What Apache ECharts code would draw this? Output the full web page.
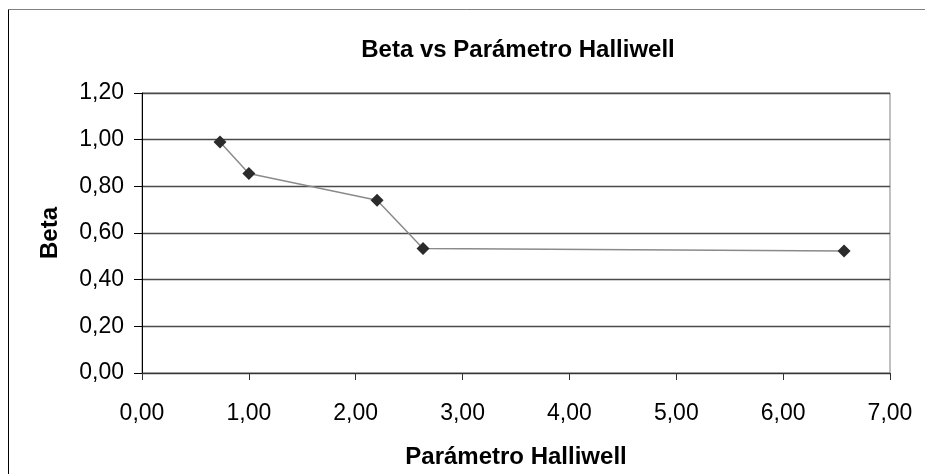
<!DOCTYPE html>
<html>
<head>
<meta charset="utf-8">
<style>
  html, body { margin: 0; padding: 0; background: #fff; }
  #chart { width: 925px; height: 474px; }
</style>
<script src="https://cdn.jsdelivr.net/npm/echarts@6/dist/echarts.min.js"></script>
</head>
<body>
<div id="chart"></div>
<script>
// Halliwell parameter (x) and Beta (y) measurements
const halliwell = [0.73, 1.00, 2.20, 2.63, 6.57];
const beta = [0.99, 0.855, 0.74, 0.534, 0.523];

// Axis ranges and steps
const xRange = [0, 7, 1];
const yRange = [0, 1.2, 0.2];

const fmt = v => v.toFixed(2).replace('.', ',');

const chart = echarts.init(document.getElementById('chart'), null, { renderer: 'canvas' });

chart.setOption({
  backgroundColor: '#ffffff',
  animation: false,
  title: {
    text: 'Beta vs Parámetro Halliwell',
    left: 513,
    textAlign: 'center',
    top: 33,
    textStyle: { fontFamily: 'Liberation Sans', fontWeight: 'bold', fontSize: 24, color: '#000' }
  },
  grid: {
    left: 142, right: 35, top: 93, bottom: 97,
    show: true, borderColor: '#808080', borderWidth: 1, backgroundColor: 'transparent'
  },
  xAxis: {
    type: 'value',
    min: xRange[0], max: xRange[1], interval: xRange[2],
    name: 'Parámetro Halliwell',
    nameLocation: 'middle',
    nameGap: 72,
    nameTextStyle: { fontFamily: 'Liberation Sans', fontWeight: 'bold', fontSize: 24, color: '#000' },
    axisLine: { show: true, onZero: false, lineStyle: { color: '#333', width: 1 } },
    axisTick: { show: true, length: 7, lineStyle: { color: '#333' } },
    axisLabel: { formatter: fmt, margin: 29, fontFamily: 'Liberation Sans', fontSize: 23, color: '#000' },
    splitLine: { show: false }
  },
  yAxis: {
    type: 'value',
    min: yRange[0], max: yRange[1], interval: yRange[2],
    name: 'Beta',
    nameLocation: 'middle',
    nameGap: 80,
    nameTextStyle: { fontFamily: 'Liberation Sans', fontWeight: 'bold', fontSize: 24, color: '#000' },
    axisLine: { show: true, onZero: false, lineStyle: { color: '#000', width: 1 } },
    axisTick: { show: true, length: 8, lineStyle: { color: '#000' } },
    axisLabel: { formatter: fmt, margin: 18, fontFamily: 'Liberation Sans', fontSize: 23, color: '#000' },
    splitLine: { show: true, lineStyle: { color: '#4a4a4a', width: 1.3 } }
  },
  series: [{
    type: 'line',
    data: halliwell.map((x, i) => [x, beta[i]]),
    symbol: 'diamond',
    symbolSize: [13, 13],
    showAllSymbol: true,
    lineStyle: { color: '#8a8a8a', width: 1.5 },
    itemStyle: { color: '#2b2b2b' },
    z: 3
  }],
  graphic: [
    { type: 'line', shape: { x1: 8.5, y1: 9.5, x2: 925, y2: 9.5 }, style: { stroke: '#808080', lineWidth: 1 } },
    { type: 'line', shape: { x1: 8.5, y1: 9.5, x2: 8.5, y2: 474 }, style: { stroke: '#000', lineWidth: 1 } }
  ]
});
</script>
</body>
</html>
